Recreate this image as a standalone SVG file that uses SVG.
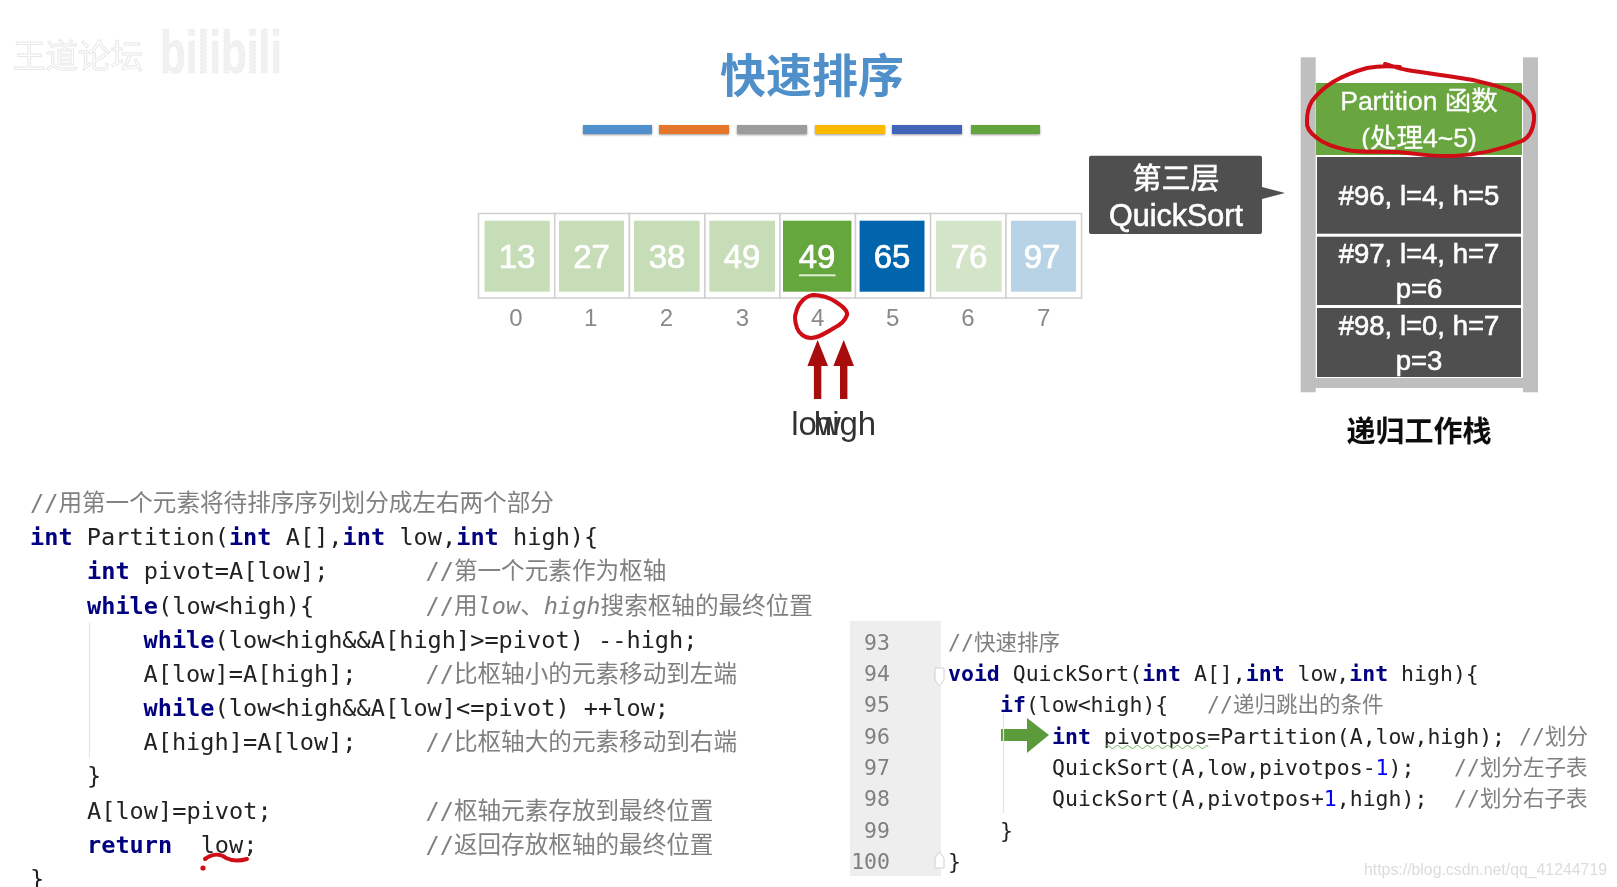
<svg xmlns="http://www.w3.org/2000/svg" width="1617" height="887" viewBox="0 0 1617 887">
<defs><filter id="soft" x="0" y="0" width="100%" height="100%"><feGaussianBlur stdDeviation="0.45"/></filter></defs>
<style>
text{white-space:pre}
.s{font-family:"Liberation Sans","Noto Sans CJK SC",sans-serif}
.cell{font-size:33px;fill:#fff;text-anchor:middle;font-family:"Liberation Sans",sans-serif;stroke:#fff;stroke-width:.7}
.idx{font-size:24px;fill:#8a8a8a;text-anchor:middle;font-family:"Liberation Sans",sans-serif}
.frame{fill:#fff;stroke:#cfcfcf;stroke-width:1.5}
.rail{fill:#bfbfbf}
.dark{fill:#505050}
.st{font-size:27.5px;fill:#fff;text-anchor:middle;font-family:"Liberation Sans","Noto Sans CJK SC",sans-serif;stroke:#fff;stroke-width:.6}
.ink{fill:none;stroke:#cf0a12;stroke-width:4;stroke-linecap:round;stroke-linejoin:round}
.arrow{fill:#a80808}
.ptr{font-size:33px;fill:#333;text-anchor:middle;font-family:"Liberation Sans",sans-serif}
.code{font-family:"DejaVu Sans Mono","Noto Sans CJK SC",monospace;font-size:23.6px;fill:#222}
.code2{font-family:"DejaVu Sans Mono","Noto Sans CJK SC",monospace;font-size:21.5px;fill:#222}
.k{fill:#000080;font-weight:bold}
.c{fill:#808080}
.i{font-style:italic}
.n{fill:#0000ff}
.ln{fill:#808080;text-anchor:end}
.guide{stroke:#e4e4e4;stroke-width:1.2;fill:none}
.bar{filter:drop-shadow(0 1.5px 1px #999)}
</style>
<rect width="1617" height="887" fill="#fff"/>
<g id="diagram" filter="url(#soft)">

<g id="watermark-top">
<text x="13" y="68" font-size="32.5" class="s" fill="#fff" stroke="#e8e8e8" stroke-width="1">王道论坛</text>
<text x="160" y="73" font-size="62" font-weight="bold" class="s" fill="#f1f1f1" stroke="#e4e4e4" stroke-width=".6" stroke-dasharray="2 2" textLength="122" lengthAdjust="spacingAndGlyphs">bilibili</text>
</g>

<g id="title">
<text x="812" y="92" font-size="46" font-weight="bold" text-anchor="middle" class="s" fill="#4f8fca">快速排序</text>
<rect class="bar" x="583" y="125" width="69" height="9" fill="#4f8fcd"/>
<rect class="bar" x="659" y="125" width="70" height="9" fill="#e6762c"/>
<rect class="bar" x="737" y="125" width="70" height="9" fill="#9c9c9c"/>
<rect class="bar" x="815" y="125" width="70" height="9" fill="#fdb900"/>
<rect class="bar" x="892" y="125" width="70" height="9" fill="#3f65b8"/>
<rect class="bar" x="971" y="125" width="69" height="9" fill="#62a53e"/>
</g>

<g id="array">
<g id="cell-0"><rect class="frame" x="478.5" y="213.5" width="76.2" height="84.5"/><rect x="484.5" y="220.7" width="65.3" height="71" fill="#c7ddb8"/><text class="cell" x="517" y="268">13</text><text class="idx" x="516" y="326">0</text></g>
<g id="cell-1"><rect class="frame" x="554.7" y="213.5" width="74.7" height="84.5"/><rect x="559" y="220.7" width="65" height="71" fill="#c7ddb8"/><text class="cell" x="591.5" y="268">27</text><text class="idx" x="590.6" y="326">1</text></g>
<g id="cell-2"><rect class="frame" x="629.4" y="213.5" width="75.5" height="84.5"/><rect x="634" y="220.7" width="65.6" height="71" fill="#c7ddb8"/><text class="cell" x="667" y="268">38</text><text class="idx" x="666.5" y="326">2</text></g>
<g id="cell-3"><rect class="frame" x="704.9" y="213.5" width="75.1" height="84.5"/><rect x="709.4" y="220.7" width="65.6" height="71" fill="#c7ddb8"/><text class="cell" x="742" y="268">49</text><text class="idx" x="742.4" y="326">3</text></g>
<g id="cell-4"><rect class="frame" x="780" y="213.5" width="75.5" height="84.5"/><rect x="783" y="220.7" width="68.4" height="71" fill="#65a63e"/><text class="cell" x="817" y="268">49</text><rect x="799" y="274.3" width="36.5" height="2" fill="#dfeed5"/><text class="idx" x="817.6" y="326">4</text></g>
<g id="cell-5"><rect class="frame" x="855.5" y="213.5" width="75.1" height="84.5"/><rect x="859.6" y="220.7" width="64.9" height="71" fill="#0065ad"/><text class="cell" x="892" y="268">65</text><text class="idx" x="892.7" y="326">5</text></g>
<g id="cell-6"><rect class="frame" x="930.6" y="213.5" width="75.4" height="84.5"/><rect x="936" y="220.7" width="65.6" height="71" fill="#d3e4c9"/><text class="cell" x="969" y="268">76</text><text class="idx" x="968" y="326">6</text></g>
<g id="cell-7"><rect class="frame" x="1006" y="213.5" width="75.6" height="84.5"/><rect x="1011" y="220.7" width="65" height="71" fill="#b8d2e6"/><text class="cell" x="1042" y="268">97</text><text class="idx" x="1043.7" y="326">7</text></g>
</g>

<g id="connectors">
<path class="arrow" d="M817.6 340L828 366H821.3V399H813.9V366H807.4Z"/>
<path class="arrow" d="M843.7 340L854 366H847.4V399H840V366H833.4Z"/>
<path id="stack-callout-pointer" class="dark" d="M1262 187L1285 193L1262 199Z"/>
<path id="green-arrow" fill="#5c9b3a" d="M1001 729H1027V718L1049 735L1027 753V741H1001Z"/>
</g>

<g id="pointer-low"><text class="ptr" x="816" y="435">low</text></g>
<g id="pointer-high"><text class="ptr" x="845" y="435">high</text></g>

<g id="callout">
<rect class="dark" x="1089" y="155.7" width="173" height="78.3" rx="2"/>
<text x="1176" y="189" font-size="29" text-anchor="middle" class="s" fill="#fff" stroke="#fff" stroke-width=".6">第三层</text>
<text x="1176" y="226" font-size="30.5" text-anchor="middle" class="s" fill="#fff" stroke="#fff" stroke-width=".6">QuickSort</text>
</g>

<g id="stack">
<rect class="rail" x="1300.7" y="57.3" width="15" height="335"/>
<rect class="rail" x="1523" y="57.3" width="15" height="335"/>
<rect class="rail" x="1315" y="378" width="208" height="10"/>
<g id="frame-partition"><rect x="1316" y="83" width="206" height="72" fill="#6aa63f"/>
<text class="st" x="1419" y="110" style="font-size:26.5px;stroke-width:.3">Partition 函数</text>
<text class="st" x="1419" y="147" style="font-size:26.5px;stroke-width:.3">(处理4~5)</text></g>
<g id="frame-96"><rect class="dark" x="1317" y="157" width="204" height="76.7"/><text class="st" x="1419" y="205">#96, l=4, h=5</text></g>
<g id="frame-97"><rect class="dark" x="1317" y="236.7" width="204" height="68.3"/><text class="st" x="1419" y="263">#97, l=4, h=7</text><text class="st" x="1419" y="298">p=6</text></g>
<g id="frame-98"><rect class="dark" x="1317" y="308" width="204" height="69"/><text class="st" x="1419" y="335">#98, l=0, h=7</text><text class="st" x="1419" y="370">p=3</text></g>
<text x="1419" y="442" font-size="29" font-weight="bold" text-anchor="middle" class="s" fill="#111">递归工作栈</text>
</g>

<g id="partition-code">
<path class="guide" d="M89.5 623V758"/>
<text class="code c" x="30" y="511">//用第一个元素将待排序序列划分成左右两个部分</text>
<text class="code" x="30" y="545"><tspan class="k">int</tspan> Partition(<tspan class="k">int</tspan> A[],<tspan class="k">int</tspan> low,<tspan class="k">int</tspan> high){</text>
<text class="code" x="87" y="579"><tspan class="k">int</tspan> pivot=A[low];</text>
<text class="code c" x="425.5" y="579">//第一个元素作为枢轴</text>
<text class="code" x="87" y="613.6"><tspan class="k">while</tspan>(low&lt;high){</text>
<text class="code c" x="425.5" y="613.6">//用<tspan class="i">low</tspan>、<tspan class="i">high</tspan>搜索枢轴的最终位置</text>
<text class="code" x="143.5" y="648"><tspan class="k">while</tspan>(low&lt;high&amp;&amp;A[high]&gt;=pivot) --high;</text>
<text class="code" x="143.5" y="682">A[low]=A[high];</text>
<text class="code c" x="425.5" y="682">//比枢轴小的元素移动到左端</text>
<text class="code" x="143.5" y="716"><tspan class="k">while</tspan>(low&lt;high&amp;&amp;A[low]&lt;=pivot) ++low;</text>
<text class="code" x="143.5" y="750">A[high]=A[low];</text>
<text class="code c" x="425.5" y="750">//比枢轴大的元素移动到右端</text>
<text class="code" x="87" y="784">}</text>
<text class="code" x="87" y="818.5">A[low]=pivot;</text>
<text class="code c" x="425.5" y="818.5">//枢轴元素存放到最终位置</text>
<text class="code" x="87" y="853"><tspan class="k">return</tspan>  low;</text>
<text class="code c" x="425.5" y="853">//返回存放枢轴的最终位置</text>
<text class="code" x="30" y="887">}</text>
<path class="ink" d="M205 859C212 854 220 853 226 858C232 861 240 861 247 859"/>
<circle cx="203" cy="868" r="2.6" fill="#cf0a12"/>
</g>

<g id="quicksort-code">
<rect x="850" y="621" width="91" height="255" fill="#eeeeee"/>
<path class="guide" d="M1003.5 713V813"/>
<g class="code2">
<text class="ln" x="890" y="649.5">93</text>
<text class="ln" x="890" y="681">94</text>
<text class="ln" x="890" y="712">95</text>
<text class="ln" x="890" y="743.5">96</text>
<text class="ln" x="890" y="775">97</text>
<text class="ln" x="890" y="806">98</text>
<text class="ln" x="890" y="837.5">99</text>
<text class="ln" x="890" y="869">100</text>
<text class="c" x="948" y="649.5">//快速排序</text>
<text x="948" y="681"><tspan class="k">void</tspan> QuickSort(<tspan class="k">int</tspan> A[],<tspan class="k">int</tspan> low,<tspan class="k">int</tspan> high){</text>
<text x="1000" y="712"><tspan class="k">if</tspan>(low&lt;high){</text>
<text class="c" x="1207" y="712">//递归跳出的条件</text>
<text x="1052" y="743.5"><tspan class="k">int</tspan> pivotpos=Partition(A,low,high);</text>
<text class="c" x="1519" y="743.5">//划分</text>
<text x="1052" y="775">QuickSort(A,low,pivotpos-<tspan class="n">1</tspan>);</text>
<text class="c" x="1454" y="775">//划分左子表</text>
<text x="1052" y="806">QuickSort(A,pivotpos+<tspan class="n">1</tspan>,high);</text>
<text class="c" x="1454" y="806">//划分右子表</text>
<text x="1000" y="837.5">}</text>
<text x="948" y="869">}</text>
</g>
<path d="M1105 747q2.5 -3 5 0t5 0t5 0t5 0t5 0t5 0t5 0t5 0t5 0t5 0t5 0t5 0t5 0t5 0t5 0t5 0t5 0t5 0t5 0t5 0t3 0" fill="none" stroke="#7fbf70" stroke-width="1.1"/>
<path d="M935 668H944V680L939.5 686L935 680Z" fill="#fff" stroke="#cfcfcf"/>
<path d="M935 868H944V858L939.5 852L935 858Z" fill="#fff" stroke="#cfcfcf"/>
</g>

<g id="ink">
<path class="ink" d="M1385 64C1392 66 1400 69 1407 70C1430 74 1452 76 1473 80C1490 84 1508 88 1520 95C1530 103 1535 110 1534 120C1533 130 1530 137 1522 141C1500 150 1475 155 1453 156C1430 157 1415 153 1397 152C1378 151 1360 153 1347 150C1333 147 1323 143 1317 138C1310 133 1306 128 1307 121C1307 112 1309 106 1312 101C1318 93 1325 87 1333 82C1345 75 1356 71 1367 68C1378 66 1390 66 1400 67"/>
<path class="ink" d="M813 295C822 295 830 298 836 302C842 306 848 310 847 315C845 321 840 325 834 328C826 333 818 338 811 338C804 338 799 333 797 328C795 322 794 317 796 313C797 307 800 303 803 300C806 297 810 295 815 295"/>
</g>

<g id="watermark-csdn">
<text x="1364" y="875" font-size="16" class="s" fill="#dcdcdc" textLength="243" lengthAdjust="spacingAndGlyphs">https://blog.csdn.net/qq_41244719</text>
</g>
</g>
</svg>
